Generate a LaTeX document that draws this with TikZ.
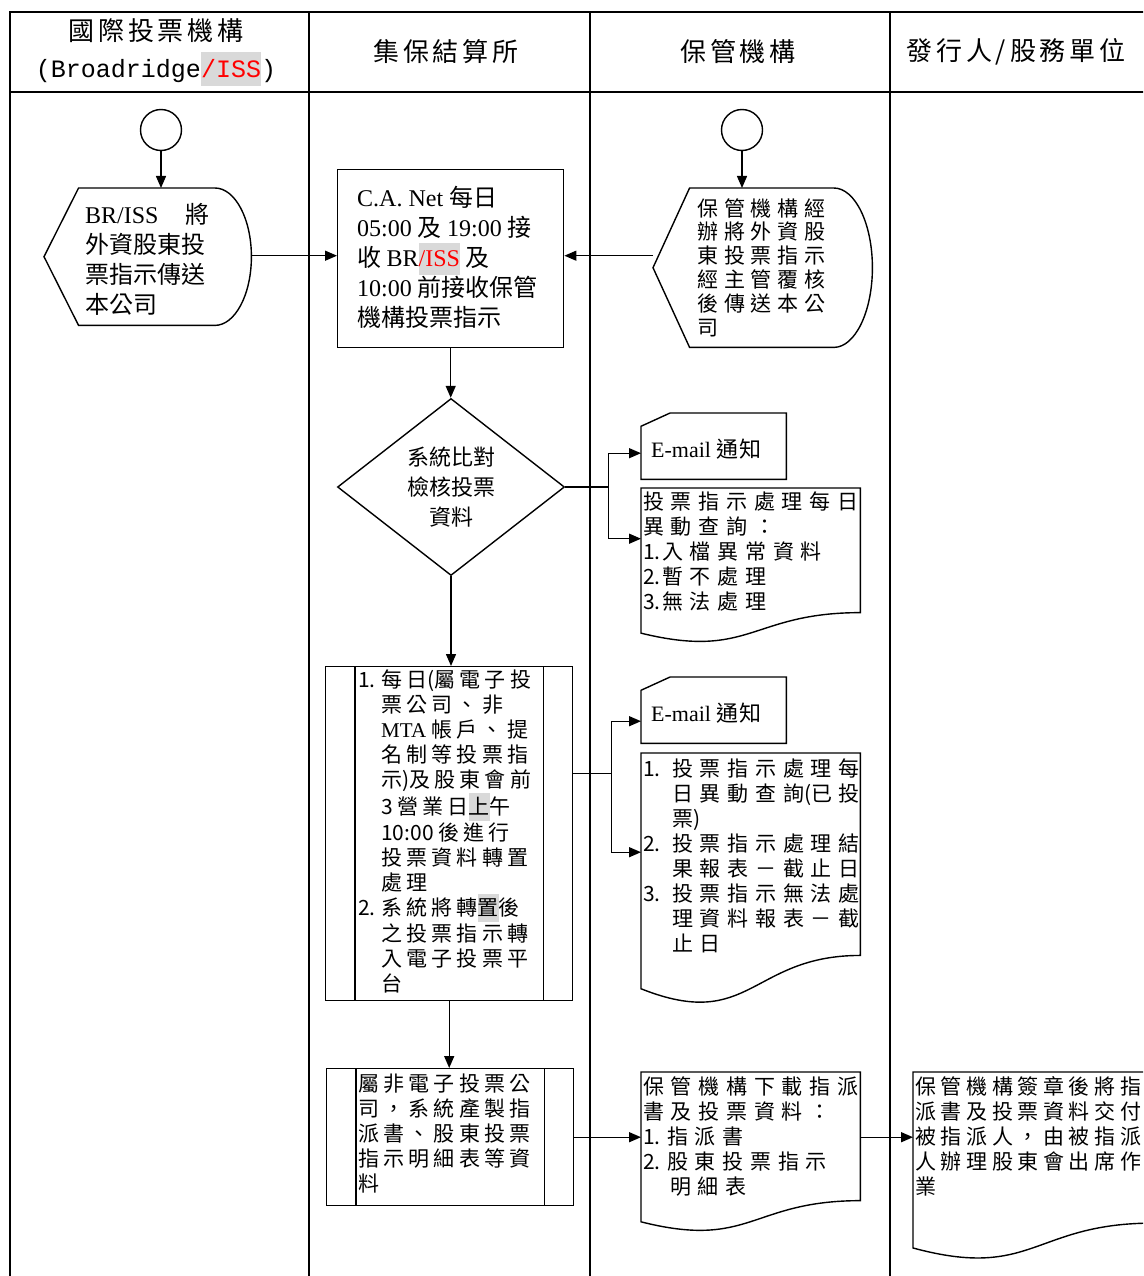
\documentclass[tikz,border=0pt]{standalone}
\usepackage{fontspec}
\setmainfont{Noto Sans CJK TC}
\newfontfamily\lat{Liberation Serif}
\newfontfamily\mono{Liberation Mono}
\usetikzlibrary{shapes.geometric,arrows.meta,calc}

\definecolor{hlgray}{RGB}{217,217,217}
\newcommand\ls[1]{\addfontfeature{LetterSpace=#1}}
\newcommand\tight[1]{{\addfontfeature{LetterSpace=0}#1}}
\newcommand\hlbox[1]{{\setlength\fboxsep{0pt}\colorbox{hlgray}{\rule[-0.35em]{0pt}{1.35em}#1}}}
\newcommand\num[2]{\makebox[#1][l]{\tight{#2}}}

% outlines of the flowchart symbols, drawn round empty frame nodes
\newcommand\dispshape[1]{%
  \draw[outline] (#1.west) -- ($(#1.north west)!0.1667!(#1.north east)$)
    -- ($(#1.north west)!0.824!(#1.north east)$)
    .. controls ($(#1.north west)!0.9212!(#1.north east)$) and ($(#1.north east)!0.224!(#1.south east)$) .. (#1.east)
    .. controls ($(#1.south east)!0.224!(#1.north east)$) and ($(#1.south west)!0.9212!(#1.south east)$) .. ($(#1.south west)!0.824!(#1.south east)$)
    -- ($(#1.south west)!0.1667!(#1.south east)$) -- cycle;}
\newcommand\cardshape[1]{%
  \draw[outline] ($(#1.north west)!0.2!(#1.south west)$) -- ($(#1.north west)!0.2!(#1.north east)$)
    -- (#1.north east) -- (#1.south east) -- (#1.south west) -- cycle;}
\newcommand\docshape[1]{%
  \draw[outline] (#1.north west) -- (#1.north east) -- ($(#1.north east)!0.802!(#1.south east)$)
    .. controls ($(#1.north)!0.802!(#1.south)$) and ($(#1.north)!1.107!(#1.south)$)
    .. ($(#1.north west)!0.934!(#1.south west)$) -- cycle;}
\newcommand\procsides[1]{%
  \draw[outline] ([xshift=30pt]#1.north west) -- ([xshift=30pt]#1.south west);
  \draw[outline] ([xshift=-30pt]#1.north east) -- ([xshift=-30pt]#1.south east);}

\tikzset{
  lane/.style={line width=1.8pt},
  outline/.style={line width=1.4pt},
  link/.style={line width=1.4pt},
  arr/.style={line width=1.4pt, -{Triangle[length=12pt,width=10pt]}},
  frame/.style={inner sep=0pt, anchor=north west},
  procbox/.style={draw, outline, inner sep=0pt, anchor=north west},
  startnode/.style={circle, draw, outline, minimum size=41pt, inner sep=0pt},
  head/.style={font=\fontsize{26}{37}\selectfont\ls{15}, align=center, inner sep=0pt},
  txt/.style={inner sep=0pt, anchor=north west, align=left},
  boxtext/.style={txt, font=\fontsize{24}{30}\selectfont},
  disptext/.style={txt, font=\fontsize{21}{23.8}\selectfont\ls{28}},
  doctext/.style={txt, font=\fontsize{21}{25}\selectfont\ls{32}},
  proctext/.style={txt, font=\fontsize{21}{25}\selectfont\ls{20}},
  mailtext/.style={anchor=base west, inner sep=0pt, font=\fontsize{22}{25}\selectfont\ls{5}},
}

\begin{document}
\begin{tikzpicture}[x=1pt,y=-1pt]
  \useasboundingbox (0,0) rectangle (1143,1276);
  \clip (0,0) rectangle (1143,1276);

  % lanes
  \draw[lane] (10,1290) -- (10,12) -- (1160,12);
  \draw[lane] (10,92) -- (1160,92);
  \foreach \x in {309,590,890}
    \draw[lane] (\x,12) -- (\x,1290);

  \node[head] (lanebr) at (156,52) {國際投票機構\\{\mono\fontsize{25}{37}\selectfont (Broadridge\hlbox{\textcolor{red}{/ISS}})}};
  \node[head] (lanetdcc) at (446,52) {集保結算所};
  \node[head] (lanecust) at (738,52) {保管機構};
  \node[head] (laneiss) at (1016,52) {發行人/股務單位};

  % symbols
  \node[startnode] (start1) at (161,130) {};
  \node[startnode] (start2) at (742,130) {};
  \node[frame, minimum width=207pt, minimum height=137pt] (brsend) at (44,188) {};
  \node[frame, minimum width=219pt, minimum height=159pt] (custsend) at (653,188) {};
  \node[procbox, minimum width=226pt, minimum height=178pt] (canet) at (337,169) {};
  \node[diamond, draw, outline, minimum width=227pt, minimum height=177pt, inner sep=0pt,
        align=center, font=\fontsize{22}{30}\selectfont] (check) at (451,487) {系統比對\\檢核投票\\資料};
  \node[frame, minimum width=145pt, minimum height=66pt] (mail1) at (641,413) {};
  \node[frame, minimum width=219pt, minimum height=155pt] (report1) at (641,488) {};
  \node[procbox, minimum width=247pt, minimum height=334pt] (transfer) at (325,666) {};
  \node[frame, minimum width=145pt, minimum height=66pt] (mail2) at (641,677) {};
  \node[frame, minimum width=219pt, minimum height=252pt] (report2) at (641,753) {};
  \node[procbox, minimum width=247pt, minimum height=137pt] (paper) at (326,1068) {};
  \node[frame, minimum width=219pt, minimum height=160pt] (download) at (641,1072) {};
  \node[frame, minimum width=240pt, minimum height=188pt] (proxy) at (913,1072) {};

  \dispshape{brsend}
  \dispshape{custsend}
  \cardshape{mail1}
  \cardshape{mail2}
  \docshape{report1}
  \docshape{report2}
  \docshape{download}
  \docshape{proxy}
  \procsides{transfer}
  \procsides{paper}

  % texts
  \node[boxtext] (brtext) at (85,203) {{\lat BR/ISS}\hspace{27pt}將\\外資股東投\\票指示傳送\\本公司};
  \node[boxtext] (canettext) at (357,186) {{\lat C.A. Net }每日\\{\lat 05:00 }及 {\lat 19:00 }接\\收 {\lat BR\hlbox{\textcolor{red}{/ISS}}} 及\\{\lat 10:00 }前接收保管\\機構投票指示};
  \node[disptext] (custtext) at (697,198) {保管機構經\\辦將外資股\\東投票指示\\經主管覆核\\後傳送本公\\司};
  \node[mailtext] (mail1text) at (651,457) {{\lat E-mail }通知};
  \node[doctext] (report1text) at (643,492) {投票指示處理每日\\異動查詢：\\\num{19pt}{1.}入檔異常資料\\\num{19pt}{2.}暫不處理\\\num{19pt}{3.}無法處理};
  \node[proctext] (transfertext) at (358,670) {\num{23pt}{1.}每日\tight{(}屬電子投\\
    \hspace*{23pt}票公司、非\\
    \hspace*{23pt}{\lat MTA }帳戶、提\\
    \hspace*{23pt}名制等投票指\\
    \hspace*{23pt}示\tight{)}及股東會前\\
    \hspace*{23pt}\tight{3 }營業日\hlbox{上}午\\
    \hspace*{23pt}\tight{10:00 }後進行\\
    \hspace*{23pt}投票資料轉置\\
    \hspace*{23pt}處理\\
    \num{23pt}{2.}系統將轉\hlbox{置}後\\
    \hspace*{23pt}之投票指示轉\\
    \hspace*{23pt}入電子投票平\\
    \hspace*{23pt}台};
  \node[mailtext] (mail2text) at (651,721) {{\lat E-mail }通知};
  \node[doctext] (report2text) at (643,759) {\num{29pt}{1.}投票指示處理每\\
    \hspace*{29pt}日異動查詢\tight{(}已投\\
    \hspace*{29pt}票\tight{)}\\
    \num{29pt}{2.}投票指示處理結\\
    \hspace*{29pt}果報表－截止日\\
    \num{29pt}{3.}投票指示無法處\\
    \hspace*{29pt}理資料報表－截\\
    \hspace*{29pt}止日};
  \node[proctext] (papertext) at (358,1074) {屬非電子投票公\\司，系統產製指\\派書、股東投票\\指示明細表等資\\料};
  \node[doctext] (downloadtext) at (643,1076) {保管機構下載指派\\書及投票資料：\\\num{24pt}{1.}指派書\\\num{24pt}{2.}股東投票指示\\\hspace*{27pt}明細表};
  \node[proctext, font=\fontsize{21}{25}\selectfont\ls{22}] (proxytext) at (915,1076) {保管機構簽章後將指\\派書及投票資料交付\\被指派人，由被指派\\人辦理股東會出席作\\業};

  % connectors
  \draw[arr] (start1) -- (start1 |- brsend.north);
  \draw[arr] (start2) -- (start2 |- custsend.north);
  \draw[arr] (brsend.east |- canet.west) ++(0,-3) -- ([yshift=3pt]canet.west);
  \draw[arr] (custsend.west |- canet.east) ++(0,-3) -- ([yshift=3pt]canet.east);
  \draw[arr] (canet.south) -- (canet.south |- check.north);
  \draw[link] (check.east) -- ++(43,0) coordinate (fork1);
  \draw[arr] (fork1) |- ([yshift=-7pt]mail1.west);
  \draw[arr] (fork1) |- ([yshift=27pt]report1.west);
  \draw[arr] (check.south) -- (check.south |- transfer.north);
  \draw[link] ([yshift=60pt]transfer.east) -- ++(38,0) coordinate (fork2);
  \draw[arr] (fork2) |- ([yshift=-11pt]mail2.west);
  \draw[arr] (fork2) |- ([yshift=27pt]report2.west);
  \draw[arr] (transfer.south) -- (transfer.south |- paper.north);
  \draw[arr] (paper.east) -- (paper.east -| download.west);
  \draw[arr] (paper.east -| download.east) -- (paper.east -| proxy.west);
\end{tikzpicture}
\end{document}
